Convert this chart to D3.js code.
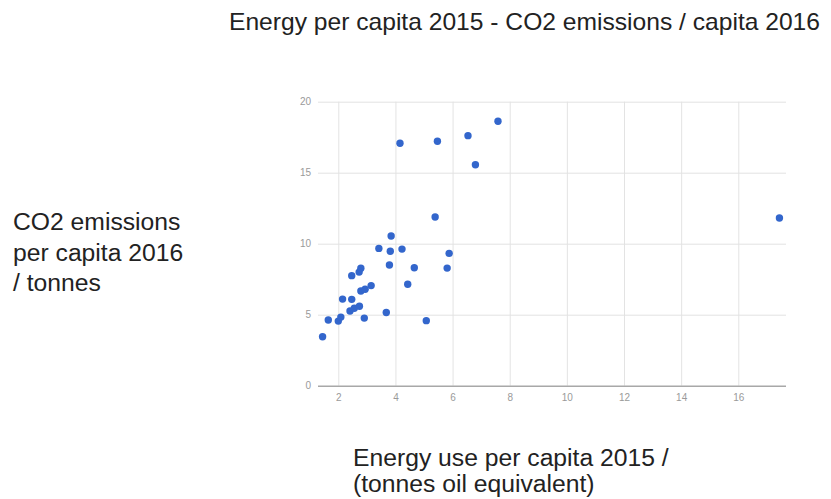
<!DOCTYPE html>
<html>
<head>
<meta charset="utf-8">
<script src="https://cdn.jsdelivr.net/npm/d3@7"></script>
<style>
  body { margin: 0; background: #fff; }
  svg text { font-family: "Liberation Sans", Arial, sans-serif; }
</style>
</head>
<body>
<div id="chart"></div>
<script>
(function () {
    // energy use per capita 2015 (toe) vs CO2 per capita 2016 (t)
    var energyUse = [1.45, 1.65, 2.0, 2.09, 2.15, 2.47, 2.41, 2.56, 2.74, 2.91,
        2.47, 2.73, 2.79, 2.79, 2.94, 3.15, 3.42, 3.85, 3.82, 4.23,
        3.79, 4.66, 4.43, 3.68, 5.08, 5.39, 5.81, 5.88, 4.16, 5.47,
        6.54, 6.80, 7.59, 17.44];
    var co2 = [3.45, 4.63, 4.55, 4.83, 6.1, 6.08, 5.26, 5.45, 5.6, 4.76,
        7.75, 8.0, 8.27, 6.67, 6.79, 7.05, 9.67, 10.54, 9.47, 9.62,
        8.5, 8.31, 7.14, 5.15, 4.58, 11.88, 8.28, 9.32, 17.07, 17.21,
        17.61, 15.56, 18.62, 11.81];
    var xTicks = [2, 4, 6, 8, 10, 12, 14, 16];
    var yTicks = [0, 5, 10, 15, 20];

    var title = 'Energy per capita 2015 - CO2 emissions / capita 2016';
    var yLabel = ['CO2 emissions', 'per capita 2016', '/ tonnes'];
    var xLabel = ['Energy use per capita 2015 /', '(tonnes oil equivalent)'];

    const width = 831, height = 499;
    const left = 318, right = 786, top = 101.7, bottom = 385.7;

    var points = energyUse.map(function (d, i) {
        return { x: d, y: co2[i] };
    });

    var svg = d3.select('#chart').append('svg')
        .attr('width', width)
        .attr('height', height);

    var x_scale = d3.scaleLinear()
        .domain([1.29, 17.67])
        .range([left, right]);

    var y_scale = d3.scaleLinear()
        .domain([0, 20])
        .range([bottom, top]);

    // vertical gridlines + x tick labels
    var xAxis = d3.axisBottom(x_scale)
        .tickValues(xTicks)
        .tickSize(-(bottom - top))
        .tickPadding(8)
        .tickFormat(d3.format('d'));

    var xg = svg.append('g')
        .attr('transform', `translate(0,${bottom})`)
        .call(xAxis);
    xg.select('.domain').remove();
    xg.selectAll('line').attr('stroke', '#e3e3e3');
    xg.selectAll('text')
        .attr('fill', '#9a9a9a')
        .style('font-size', '10px');

    // horizontal gridlines + y tick labels
    var yAxis = d3.axisLeft(y_scale)
        .tickValues(yTicks)
        .tickSize(-(right - left))
        .tickPadding(7)
        .tickFormat(d3.format('d'));

    var yg = svg.append('g')
        .attr('transform', `translate(${left},0)`)
        .call(yAxis);
    yg.select('.domain').remove();
    yg.selectAll('line')
        .attr('stroke', function (d) { return d === 0 ? '#a8a8a8' : '#e3e3e3'; })
        .attr('stroke-width', function (d) { return d === 0 ? 1.6 : 1; });
    yg.selectAll('text')
        .attr('fill', '#9a9a9a')
        .style('font-size', '10px');

    // points
    svg.append('g').selectAll('circle').data(points)
        .enter().append('circle')
        .attr('cx', function (d) { return x_scale(d.x); })
        .attr('cy', function (d) { return y_scale(d.y); })
        .attr('r', 3.7)
        .attr('fill', '#3366cc');

    // title
    svg.append('text')
        .attr('x', 229)
        .attr('y', 30)
        .attr('fill', '#222')
        .style('font-size', '24px')
        .attr('textLength', 591)
        .attr('lengthAdjust', 'spacingAndGlyphs')
        .text(title);

    // y label
    svg.append('g').selectAll('text').data(yLabel)
        .enter().append('text')
        .attr('x', 13)
        .attr('y', function (d, i) { return 230 + i * 30.5; })
        .attr('fill', '#222')
        .style('font-size', '24.7px')
        .text(function (d) { return d; });

    // x label
    svg.append('g').selectAll('text').data(xLabel)
        .enter().append('text')
        .attr('x', 353)
        .attr('y', function (d, i) { return 466 + i * 25.5; })
        .attr('fill', '#222')
        .style('font-size', '24.7px')
        .text(function (d) { return d; });
})();
</script>
</body>
</html>
